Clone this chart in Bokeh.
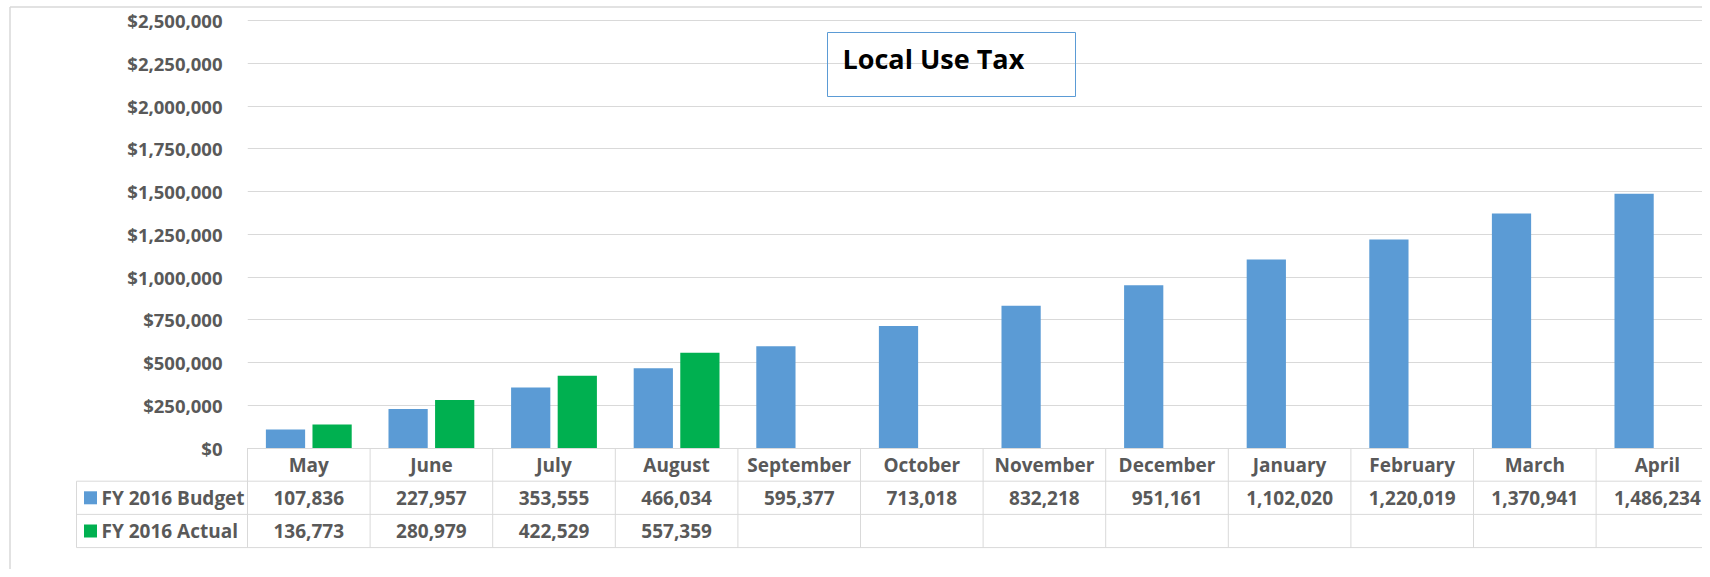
from bokeh.plotting import figure
from bokeh.models import Range1d, FixedTicker, NumeralTickFormatter, ColumnDataSource
from bokeh.core.properties import value
from bokeh.embed import file_html
from bokeh.resources import INLINE

# ---------------- data ----------------
months = ["May", "June", "July", "August", "September", "October", "November",
          "December", "January", "February", "March", "April"]
budget = [107836, 227957, 353555, 466034, 595377, 713018, 832218, 951161,
          1102020, 1220019, 1370941, 1486234]
actual = [136773, 280979, 422529, 557359]
series_names = ["FY 2016 Budget", "FY 2016 Actual"]
y_ticks = [0, 250000, 500000, 750000, 1000000, 1250000, 1500000, 1750000,
           2000000, 2250000, 2500000]
title = "Local Use Tax"

# ---------------- style ----------------
BLUE = "#5b9bd5"
GREEN = "#00b050"
GRID = "#d9d9d9"
TXT = "#595959"
FONT = value("Open Sans")

W, H = 1702, 569
LEFT = 247
cat_px = 122.6
px_per_dollar = 171.0 / 1e6
zero_sy = 447.5
frame_w = W - LEFT

x_end = frame_w / cat_px
y_start = -(H - zero_sy) / px_per_dollar
y_end = zero_sy / px_per_dollar

p = figure(width=W, height=H, output_backend="svg", toolbar_location=None,
           x_range=Range1d(0, x_end), y_range=Range1d(y_start, y_end),
           x_axis_location=None, min_border_left=LEFT, min_border_right=0,
           min_border_top=0, min_border_bottom=0)
p.outline_line_color = None
p.background_fill_color = "white"
p.border_fill_color = "white"

# table row range: 0 = top of header row, 1 unit = one row
row_px = 33.2
p.extra_y_ranges = {"tbl": Range1d((H - zero_sy) / row_px, -zero_sy / row_px)}

# y axis
p.yaxis.ticker = FixedTicker(ticks=y_ticks)
p.yaxis.formatter = NumeralTickFormatter(format="$0,0")
p.yaxis.axis_line_color = None
p.yaxis.major_tick_line_color = None
p.yaxis.minor_tick_line_color = None
p.yaxis.major_label_standoff = 19
p.yaxis.major_label_text_font = "Open Sans"
p.yaxis.major_label_text_font_style = "bold"
p.yaxis.major_label_text_font_size = "18.5px"
p.yaxis.major_label_text_color = TXT
p.ygrid.grid_line_color = GRID
p.ygrid.grid_line_width = 1
p.xgrid.visible = False

# ---------------- bars ----------------
n = len(months)
off = 0.19
bw = 0.32
src_b = ColumnDataSource(dict(x=[i + 0.5 - off for i in range(n)], top=budget))
src_a = ColumnDataSource(dict(x=[i + 0.5 + off for i in range(len(actual))], top=actual))
p.vbar(x="x", top="top", bottom=0, width=bw, source=src_b,
       fill_color=BLUE, line_color=None)
p.vbar(x="x", top="top", bottom=0, width=bw, source=src_a,
       fill_color=GREEN, line_color=None)


def sx_to_x(sx):
    return (sx - LEFT) / cat_px


def sy_to_y(sy):
    return (zero_sy - sy) / px_per_dollar


# ---------------- data table ----------------
leg_x0 = sx_to_x(76)   # left edge of legend column
hx0, hx1, hy = [], [], []
for r in (1, 2, 3):
    hx0.append(leg_x0); hx1.append(x_end + 1); hy.append(r)
p.segment(x0=hx0, x1=hx1, y0=hy, y1=hy, y_range_name="tbl",
          line_color=GRID, line_width=1, level="overlay")
vx = [leg_x0] + list(range(n + 1))
vy0 = [1] + [0] * (n + 1)
p.segment(x0=vx, x1=vx, y0=vy0, y1=[3] * len(vx), y_range_name="tbl",
          line_color=GRID, line_width=1, level="overlay")

p.text(x=[i + 0.5 for i in range(n)], y=[0.5] * n, text=months,
       y_range_name="tbl", text_font=FONT, text_font_style="bold",
       text_font_size="19px", text_color=TXT, text_align="center",
       text_baseline="middle", level="overlay")
p.text(x=[i + 0.5 for i in range(n)], y=[1.5] * n,
       text=[f"{v:,}" for v in budget], y_range_name="tbl", text_font=FONT,
       text_font_style="bold", text_font_size="19px", text_color=TXT,
       text_align="center", text_baseline="middle", level="overlay")
p.text(x=[i + 0.5 for i in range(len(actual))], y=[2.5] * len(actual),
       text=[f"{v:,}" for v in actual], y_range_name="tbl", text_font=FONT,
       text_font_style="bold", text_font_size="19px", text_color=TXT,
       text_align="center", text_baseline="middle", level="overlay")

# legend keys + series names in left column
key_x = sx_to_x(90)
name_x = sx_to_x(101)
p.rect(x=[key_x, key_x], y=[1.5, 2.5], width=13, height=13,
       width_units="screen", height_units="screen", y_range_name="tbl",
       fill_color=[BLUE, GREEN], line_color=None, level="overlay")
p.text(x=[name_x, name_x], y=[1.5, 2.5], text=series_names, y_range_name="tbl",
       text_font=FONT, text_font_style="bold", text_font_size="19px",
       text_color=TXT, text_align="left", text_baseline="middle", level="overlay")

# outer chart border (left and top edges)
bx = sx_to_x(9.5)
by = sy_to_y(6.5)
p.segment(x0=[bx, bx], x1=[bx, x_end + 1], y0=[y_start, by], y1=[by, by],
          line_color=GRID, line_width=1.5, level="overlay")

# ---------------- title box ----------------
p.quad(left=[sx_to_x(827)], right=[sx_to_x(1075)], top=[sy_to_y(32)],
       bottom=[sy_to_y(96)], fill_alpha=0, line_color="#5b9bd5", line_width=1,
       level="overlay")
p.text(x=[sx_to_x(842)], y=[sy_to_y(58)], text=[title], text_font=FONT,
       text_font_style="bold", text_font_size="27px", text_color="black",
       text_align="left", text_baseline="middle", level="overlay")

open("out.html", "w").write(file_html(p, INLINE))
